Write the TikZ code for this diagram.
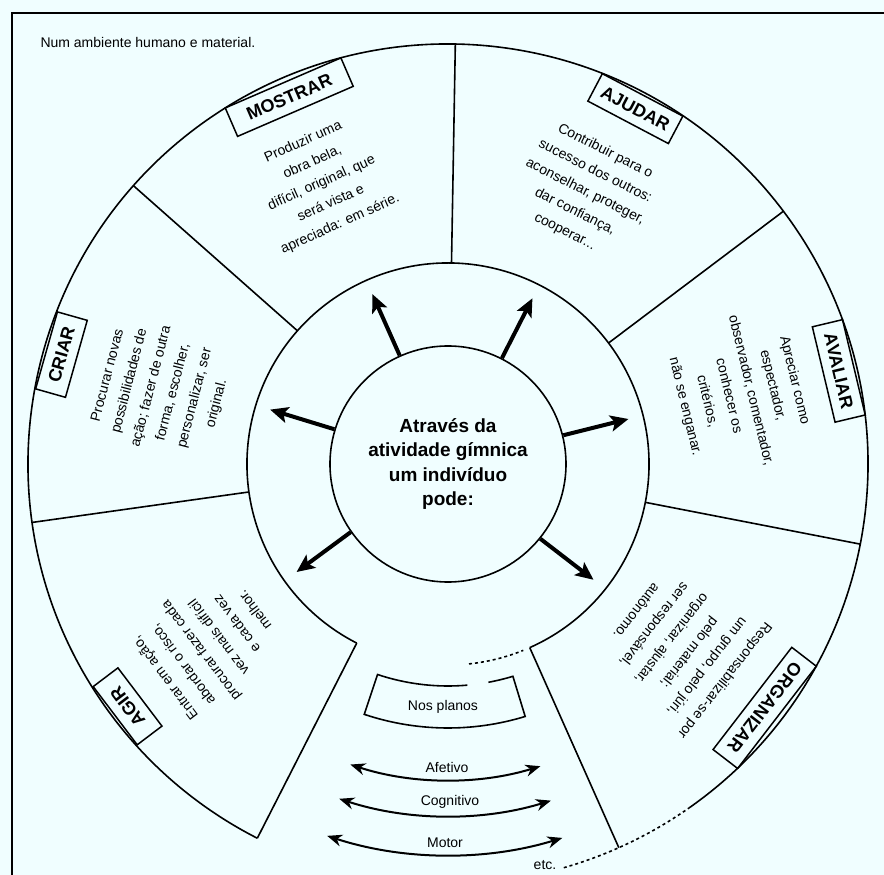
\documentclass[tikz,border=0pt]{standalone}
\usepackage{fontspec}
\setmainfont{Liberation Sans}
\usetikzlibrary{arrows.meta}
\definecolor{papel}{RGB}{240,254,255}

\begin{document}
\begin{tikzpicture}[x=1pt,y=1pt,
  traco/.style={line width=1.6pt},
  rotulo/.style={draw,line width=1.5pt,minimum height=31pt,inner xsep=8pt,anchor=north,font=\bfseries\fontsize{18}{18}\selectfont},
  bloco/.style={align=center,font=\fontsize{14}{22.5}\selectfont},
  seta/.style={line width=4pt,-{Stealth[length=18pt,width=16pt,inset=4pt]}},
  plano/.style={line width=2pt,{Stealth[length=15pt,width=12pt]}-{Stealth[length=15pt,width=12pt]}},
  pequeno/.style={font=\fontsize{14}{14}\selectfont}]
\fill[papel] (-448,-411) rectangle (436,464);
\useasboundingbox (-448,-411) rectangle (436,464);
\draw[traco] (-436,-420) -- (-436,451) -- (440,451);
\node[pequeno,anchor=west] (ambiente) at (-411,421) {Num ambiente humano e material.};

% circulos
\node[traco,draw,circle,minimum size=236pt,inner sep=0pt,align=center,font=\bfseries\fontsize{19}{24.4}\selectfont] (centro) at (0,0) {Através da\\atividade gímnica\\um indivíduo\\pode:};
\draw[traco] (-66:201pt) arc[start angle=-66,end angle=243,radius=201pt];
\draw[traco,dashed] (-84:201pt) arc[start angle=-84,end angle=-68,radius=201pt];
\draw[traco] (-55:420pt) arc[start angle=-55,end angle=243,radius=420pt];
\draw[traco,dashed] (-74:420pt) arc[start angle=-74,end angle=-55,radius=420pt];
\foreach \a in {89,37,-11,-66,-117,188,138.5}
  \draw[traco] (\a:201pt) -- (\a:420pt);

% setas
\foreach \a/\n in {114/1,63/2,14/3,321.5/4,215.5/5,163/6}{
  \coordinate (ponta\n) at (\a:186pt);
  \draw[seta] (centro.\a) -- (ponta\n);
}

% rotulos
\node[rotulo,rotate=23.4,minimum width=126pt] (mostrar) at (113.4:416pt) {MOSTRAR};
\node[rotulo,rotate=-27.8,minimum width=90pt] (ajudar) at (62.2:418pt) {AJUDAR};
\node[rotulo,rotate=-76.6,minimum width=98pt] (avaliar) at (13.4:418pt) {AVALIAR};
\node[rotulo,rotate=-127.6,minimum width=129pt] (organizar) at (-37.6:416pt) {ORGANIZAR};
\node[rotulo,rotate=-232.9,minimum width=73pt] (agir) at (-142.9:418pt) {AGIR};
\node[rotulo,rotate=74.2,minimum width=80pt] (criar) at (164.2:418pt) {CRIAR};

\node[bloco,rotate=24.2] (t-mostrar) at (114.2:308pt) {Produzir uma\\obra bela,\\difícil, original, que\\será vista e\\apreciada: em série.};
\node[bloco,rotate=-26.7] (t-ajudar) at (63.3:305pt) {Contribuir para o\\sucesso dos outros:\\aconselhar, proteger,\\dar confiança,\\cooperar...};
\node[bloco,rotate=-76.4] (t-avaliar) at (13.6:300pt) {Apreciar como\\espectador,\\observador, comentador,\\conhecer os\\critérios,\\não se enganar.};
\node[bloco,rotate=-128] (t-organizar) at (-38:296pt) {Responsabilizar-se por\\um grupo, pelo júri,\\pelo material;\\organizar, ajustar,\\ser responsável,\\autônomo.};
\node[bloco,rotate=-232.9] (t-agir) at (-142.9:299pt) {Entrar em ação,\\abordar o risco,\\procurar fazer cada\\vez mais difícil\\e cada vez\\melhor.};
\node[bloco,rotate=75.4] (t-criar) at (165.4:295pt) {Procurar novas\\possibilidades de\\ação; fazer de outra\\forma, escolher,\\personalizar, ser\\original.};

% planos
\draw[traco] (-85:222pt) arc[start angle=-85,end angle=-108.5,radius=222pt] -- (-108.5:264pt) arc[start angle=-108.5,end angle=-73,radius=264pt] -- (-73:222pt) arc[start angle=-73,end angle=-79.5,radius=222pt];
\node[pequeno] (planos) at (-5,-243) {Nos planos};

\coordinate (afetivo-e) at (-108:316pt);
\draw[plano] (afetivo-e) arc[start angle=-108,end angle=-73,radius=316pt];
\node[pequeno] (afetivo) at (-1,-303) {Afetivo};
\coordinate (cognitivo-e) at (-108:352pt);
\draw[plano] (cognitivo-e) arc[start angle=-108,end angle=-73,radius=352pt];
\node[pequeno] (cognitivo) at (2,-338) {Cognitivo};
\coordinate (motor-e) at (-108:391pt);
\draw[plano] (motor-e) arc[start angle=-108,end angle=-73,radius=391pt];
\node[pequeno] (motor) at (-3,-379) {Motor};

\node[pequeno] (etc) at (97,-401) {etc.};
\end{tikzpicture}
\end{document}
